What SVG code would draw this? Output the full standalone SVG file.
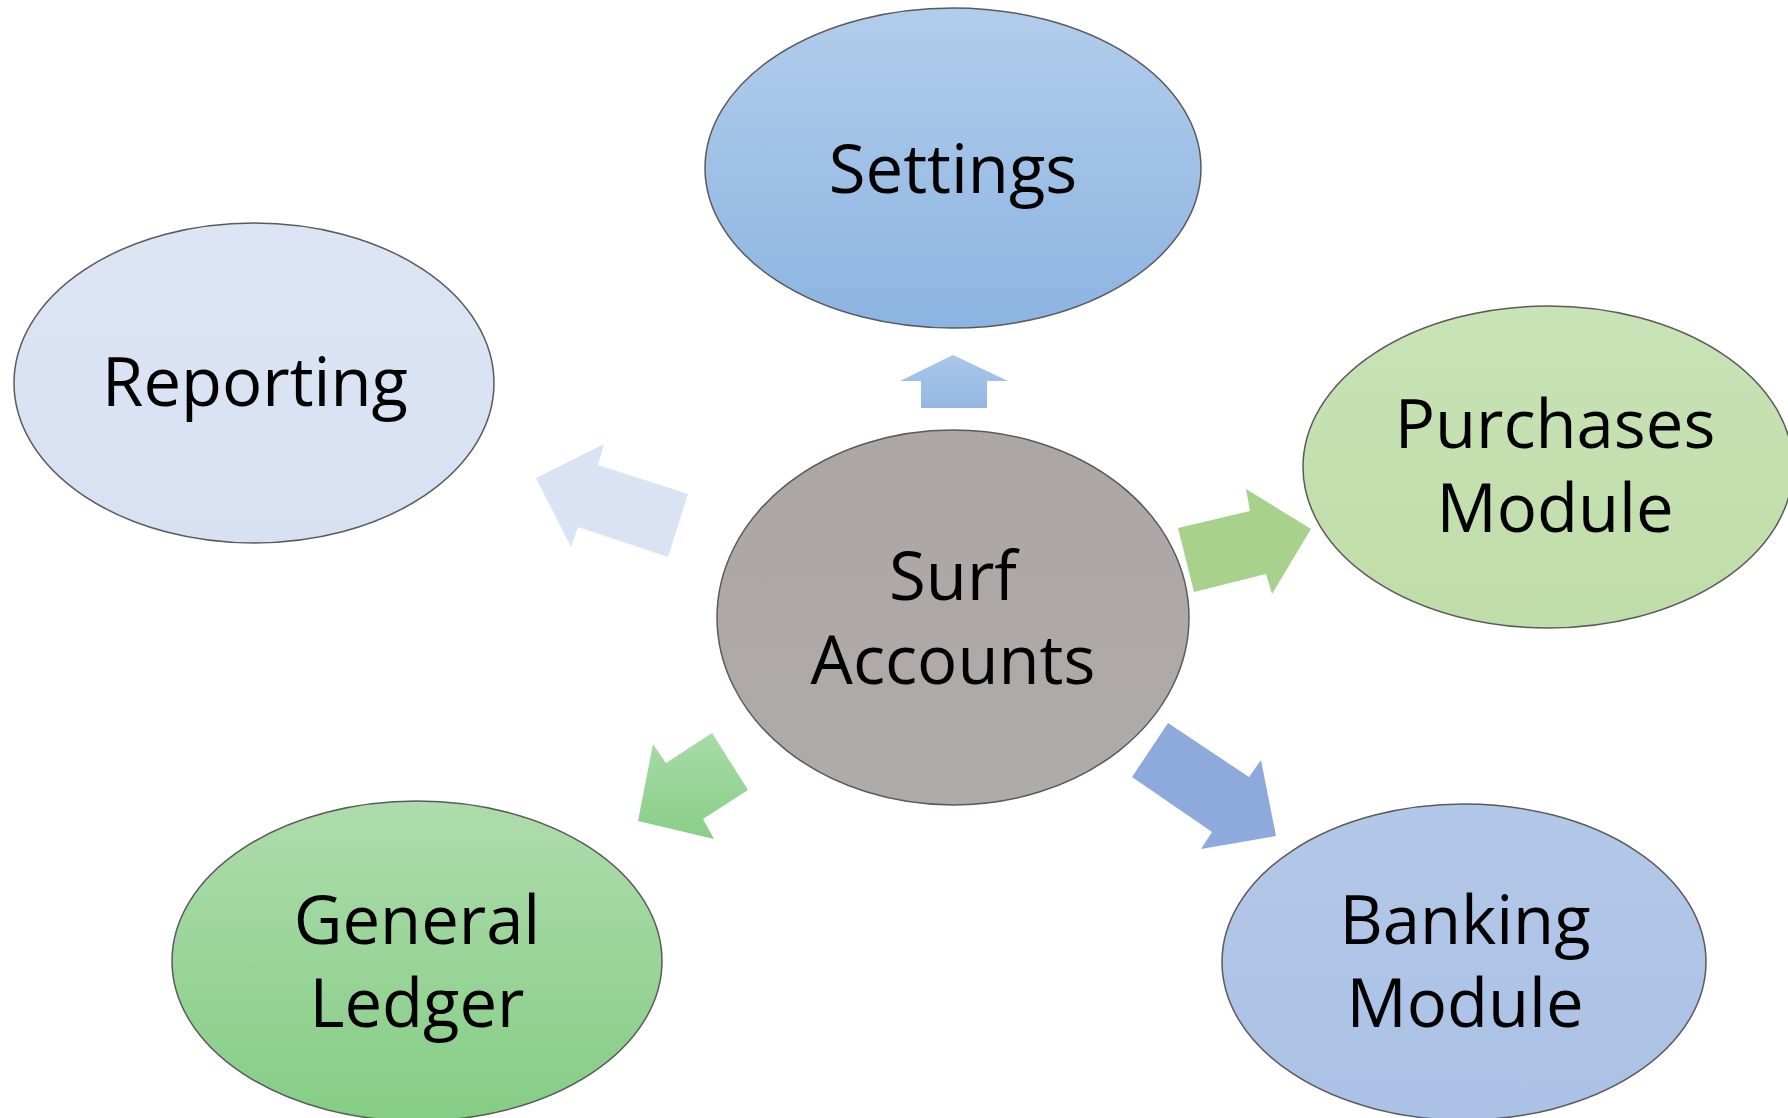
<svg xmlns="http://www.w3.org/2000/svg" width="1788" height="1118" viewBox="0 0 1788 1118">
<defs>
<linearGradient id="gSettings" x1="0" y1="0" x2="0" y2="1"><stop offset="0" stop-color="#b2cdeb"/><stop offset="1" stop-color="#8cb4e2"/></linearGradient>
<linearGradient id="gReport" x1="0" y1="0" x2="0" y2="1"><stop offset="0" stop-color="#dde5f4"/><stop offset="1" stop-color="#d7e1f2"/></linearGradient>
<linearGradient id="gPurch" x1="0" y1="0" x2="0" y2="1"><stop offset="0" stop-color="#c8e3b6"/><stop offset="1" stop-color="#bfdda8"/></linearGradient>
<linearGradient id="gSurf" x1="0" y1="0" x2="0" y2="1"><stop offset="0" stop-color="#aca7a6"/><stop offset="1" stop-color="#b0abab"/></linearGradient>
<linearGradient id="gGL" x1="0" y1="0" x2="0" y2="1"><stop offset="0" stop-color="#aedcac"/><stop offset="1" stop-color="#85cd85"/></linearGradient>
<linearGradient id="gBank" x1="0" y1="0" x2="0" y2="1"><stop offset="0" stop-color="#b3c8e8"/><stop offset="1" stop-color="#abc1e5"/></linearGradient>
<linearGradient id="aUp" x1="0" y1="0" x2="0" y2="1"><stop offset="0" stop-color="#aac7e9"/><stop offset="1" stop-color="#94b7e2"/></linearGradient>
<linearGradient id="aGL" x1="0" y1="0" x2="0" y2="1"><stop offset="0" stop-color="#a8dba8"/><stop offset="1" stop-color="#88ce88"/></linearGradient>
</defs>
<style>
.node ellipse{stroke:#5a5a5a;stroke-width:1.5}
.node text{font-family:"Open Sans","Liberation Sans",sans-serif;font-size:67px;fill:#000;text-anchor:middle}
.conn polygon{stroke:none}
</style>
<rect width="1788" height="1118" fill="#ffffff"/>
<g id="connectors" class="conn">
<polygon points="953,355 1008,381 987,381 987,408 921,408 921,381 900,381" fill="url(#aUp)"/>
<polygon points="536,478 604,444 598,465 688,494 668,557 578,527 571,547" fill="#d9e3f3"/>
<polygon points="1178,528 1250,511 1246,489 1311,529 1272,594 1266,574 1194,592" fill="#a8d18c"/>
<polygon points="1168,723 1249,777 1261,760 1276,836 1201,849 1212,832 1132,777" fill="#8eaadc"/>
<polygon points="712,733 748,790 703,819 714,839 638,821 653,744 666,763" fill="url(#aGL)"/>
</g>
<g id="settings" class="node">
<ellipse cx="953" cy="168" rx="248" ry="160" fill="url(#gSettings)"/>
<text x="953" y="193">Settings</text>
</g>
<g id="reporting" class="node">
<ellipse cx="254" cy="383" rx="240" ry="160" fill="url(#gReport)"/>
<text x="255" y="406">Reporting</text>
</g>
<g id="purchases" class="node">
<ellipse cx="1548" cy="467" rx="245" ry="161" fill="url(#gPurch)"/>
<text x="1555" y="448"><tspan x="1555" y="448">Purchases</tspan><tspan x="1555" y="532">Module</tspan></text>
</g>
<g id="surf" class="node">
<ellipse cx="953" cy="617.5" rx="236" ry="187.5" fill="url(#gSurf)"/>
<text x="953" y="600"><tspan x="953" y="600">Surf</tspan><tspan x="953" y="684">Accounts</tspan></text>
</g>
<g id="general-ledger" class="node">
<ellipse cx="417" cy="961" rx="245" ry="160" fill="url(#gGL)"/>
<text x="417" y="944"><tspan x="417" y="944">General</tspan><tspan x="417" y="1027">Ledger</tspan></text>
</g>
<g id="banking" class="node">
<ellipse cx="1464" cy="962" rx="242" ry="158" fill="url(#gBank)"/>
<text x="1465" y="944"><tspan x="1465" y="944">Banking</tspan><tspan x="1465" y="1027">Module</tspan></text>
</g>
</svg>
